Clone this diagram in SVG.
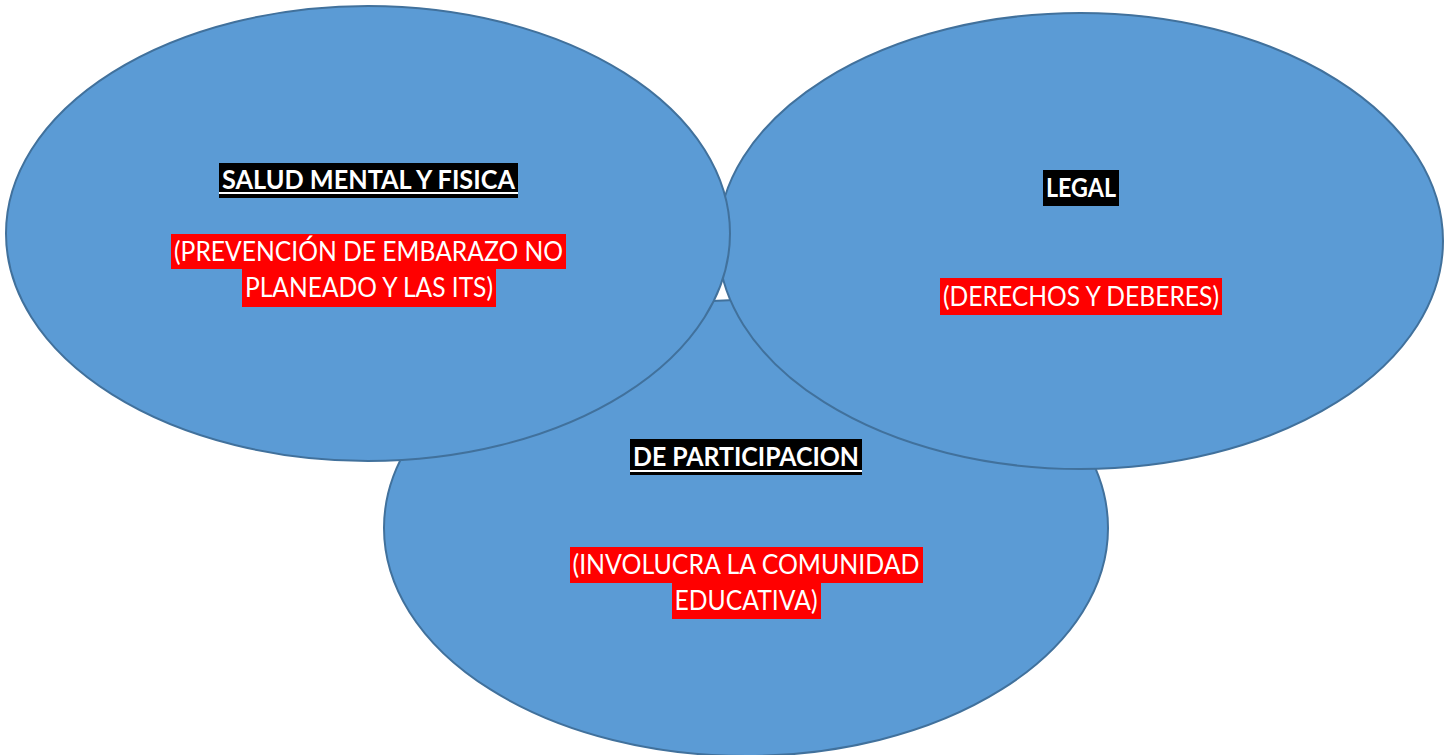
<svg xmlns="http://www.w3.org/2000/svg" width="1448" height="755" viewBox="0 0 1448 755">
<style>
.e{fill:#5B9BD5;stroke:#41719C;stroke-width:2}
.t{font-family:Lato,"Liberation Sans",sans-serif;font-size:27px;fill:#FFFFFF;text-anchor:middle}
.b{font-weight:bold}
.bk{fill:#000000}
.rd{fill:#FF0000}
.ul{fill:#FFFFFF}
</style>
<rect width="1448" height="755" fill="#FFFFFF"/>
<g id="participacion">
<ellipse class="e" cx="746" cy="528" rx="362" ry="228"/>
<rect class="bk" x="630" y="439" width="232" height="36"/>
<text class="t b" x="746" y="466" textLength="226" lengthAdjust="spacingAndGlyphs">DE PARTICIPACION</text>
<rect class="ul" x="630" y="470" width="232" height="2"/>
<rect class="rd" x="570" y="547" width="353" height="36"/>
<rect class="rd" x="672" y="583" width="149" height="36"/>
<text class="t" x="746" y="574" textLength="347" lengthAdjust="spacingAndGlyphs">(INVOLUCRA LA COMUNIDAD</text>
<text class="t" x="746" y="610" textLength="143" lengthAdjust="spacingAndGlyphs">EDUCATIVA)</text>
</g>
<g id="legal">
<ellipse class="e" cx="1080.5" cy="241" rx="362.5" ry="228"/>
<rect class="bk" x="1043" y="170" width="76" height="36"/>
<text class="t b" x="1081" y="197" textLength="70" lengthAdjust="spacingAndGlyphs">LEGAL</text>
<rect class="rd" x="940" y="278" width="282" height="37"/>
<text class="t" x="1081" y="306" textLength="276" lengthAdjust="spacingAndGlyphs">(DERECHOS Y DEBERES)</text>
</g>
<g id="salud">
<ellipse class="e" cx="368" cy="233.5" rx="362" ry="227.5"/>
<rect class="bk" x="219" y="163" width="299" height="35"/>
<text class="t b" x="368.5" y="189" textLength="293" lengthAdjust="spacingAndGlyphs">SALUD MENTAL Y FISICA</text>
<rect class="ul" x="219" y="192" width="299" height="2"/>
<rect class="rd" x="171" y="234" width="395" height="35"/>
<rect class="rd" x="242" y="269" width="254" height="38"/>
<text class="t" x="368.5" y="261" textLength="389" lengthAdjust="spacingAndGlyphs">(PREVENCIÓN DE EMBARAZO NO</text>
<text class="t" x="369" y="297" textLength="248" lengthAdjust="spacingAndGlyphs">PLANEADO Y LAS ITS)</text>
</g>
<g id="connectors"></g>
</svg>
